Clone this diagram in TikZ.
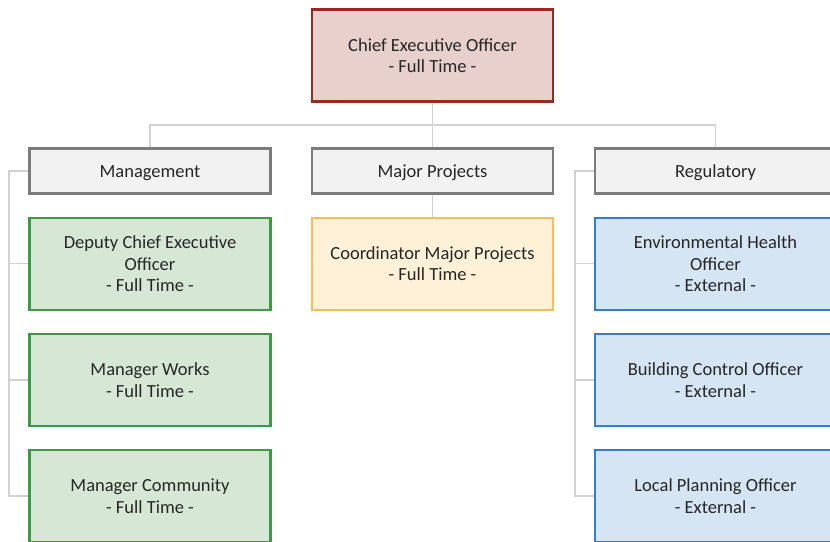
\documentclass[tikz,border=0pt]{standalone}
\usepackage{fontspec}
\setmainfont{Carlito}
\usetikzlibrary{positioning}
\definecolor{ceofill}{HTML}{E8D1CC}
\definecolor{ceoline}{HTML}{9A2A1F}
\definecolor{headfill}{HTML}{F2F2F2}
\definecolor{headline}{HTML}{7B7B7B}
\definecolor{mgmtfill}{HTML}{D6E8D5}
\definecolor{mgmtline}{HTML}{3C9A47}
\definecolor{projfill}{HTML}{FFF0D8}
\definecolor{projline}{HTML}{F7BE50}
\definecolor{regfill}{HTML}{D6E5F3}
\definecolor{regline}{HTML}{2E80CA}
\definecolor{linkgray}{HTML}{D2D2D2}
\definecolor{textgray}{HTML}{262626}

\begin{document}
\begin{tikzpicture}[x=1pt, y=-1pt,
        box/.style={draw, line width=2.2pt, minimum width=241pt, minimum height=92pt,
            align=center, text=textgray, font=\fontsize{18.5}{21.5}\selectfont},
        head/.style={box, minimum height=45pt, text height=14pt, text depth=2pt,
            fill=headfill, draw=headline},
        ceobox/.style={box, fill=ceofill, draw=ceoline},
        mgmtbox/.style={box, fill=mgmtfill, draw=mgmtline},
        projbox/.style={box, fill=projfill, draw=projline},
        regbox/.style={box, fill=regfill, draw=regline},
        link/.style={draw=linkgray, line width=1.5pt}]
        \useasboundingbox (0,0) rectangle (830,541);

        \node[ceobox] (ceo) at (432.5,55.5) {Chief Executive Officer\\- Full Time -};
        \node[head] (mgmt) at (150,171) {Management};
        \node[head] (major) at (432.5,171) {Major Projects};
        \node[head] (reg) at (715.5,171) {Regulatory};

        \node[mgmtbox, below=22pt of mgmt] (deputy) {Deputy Chief Executive\\Officer\\- Full Time -};
        \node[mgmtbox, below=22pt of deputy] (works) {Manager Works\\- Full Time -};
        \node[mgmtbox, below=22pt of works] (community) {Manager Community\\- Full Time -};

        \node[projbox, below=22pt of major] (coord) {Coordinator Major Projects\\- Full Time -};

        \node[regbox, below=22pt of reg] (envhealth) {Environmental Health\\Officer\\- External -};
        \node[regbox, below=22pt of envhealth] (building) {Building Control Officer\\- External -};
        \node[regbox, below=22pt of building] (planning) {Local Planning Officer\\- External -};

        \coordinate (bar) at (432.5,125);
        \coordinate (mspine) at (9,0);
        \coordinate (rspine) at (575,0);

        \draw[link] (ceo) -- (major);
        \draw[link] (mgmt.north) |- (bar) -| (reg.north);
        \draw[link] (major) -- (coord);

        \draw[link] (mgmt.west) -| (mspine |- community) -- (community.west);
        \draw[link] (mspine |- deputy) -- (deputy.west);
        \draw[link] (mspine |- works) -- (works.west);

        \draw[link] (reg.west) -| (rspine |- planning) -- (planning.west);
        \draw[link] (rspine |- envhealth) -- (envhealth.west);
        \draw[link] (rspine |- building) -- (building.west);
\end{tikzpicture}
\end{document}
